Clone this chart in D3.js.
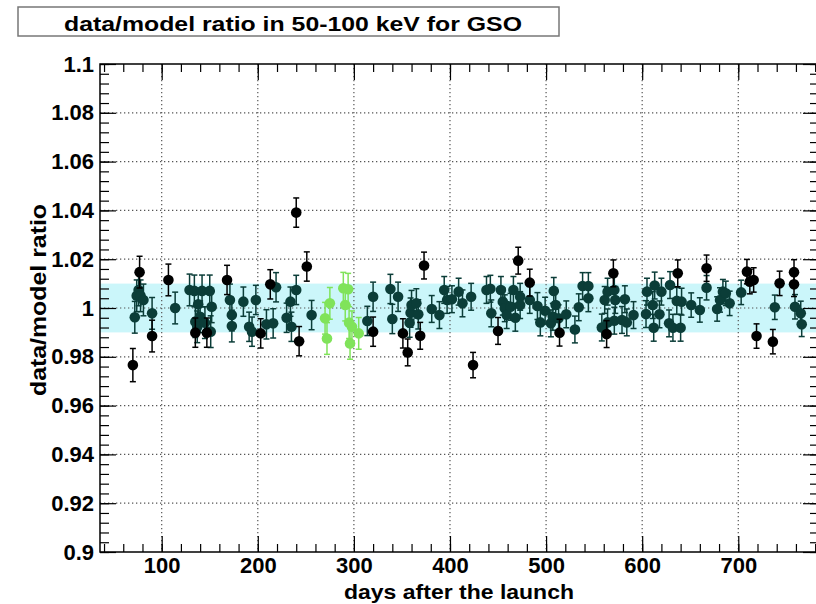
<!DOCTYPE html>
<html>
<head>
<meta charset="utf-8">
<script src="https://cdn.jsdelivr.net/npm/d3@7"></script>
<style>
  body { margin: 0; background: #fff; }
  svg { font-family: "Liberation Sans", Arial, sans-serif; }
  .axis text { font-weight: bold; font-size: 22px; fill: #000; }
</style>
</head>
<body>
<svg id="chart" width="816" height="604"></svg>
<script>
// Data: [day, ratio, error]
const tealPoints = [
  [72, 0.9962, 0.0065], [74, 1.0050, 0.0065], [76, 1.0074, 0.0065], [78, 1.0050, 0.0065],
  [81, 1.0033, 0.0065], [90, 0.9978, 0.0065], [114, 1.0000, 0.0065], [129, 1.0074, 0.0065],
  [134, 1.0070, 0.0065], [138, 1.0015, 0.0065], [135, 0.9944, 0.0065], [137, 0.9923, 0.0065],
  [142, 1.0070, 0.0065], [140, 0.9964, 0.0065], [145, 0.9940, 0.0065], [150, 1.0070, 0.0065],
  [152, 1.0005, 0.0065], [151, 0.9903, 0.0065], [171, 1.0033, 0.0065], [173, 0.9971, 0.0065],
  [173, 0.9926, 0.0065], [185, 1.0026, 0.0060], [191, 0.9923, 0.0060], [194, 0.9903, 0.0060],
  [198, 1.0033, 0.0060], [209, 0.9933, 0.0060], [216, 0.9937, 0.0060], [219, 1.0085, 0.0060],
  [240, 1.0074, 0.0060], [234, 1.0026, 0.0060], [230, 0.9960, 0.0060], [235, 0.9923, 0.0060],
  [256, 0.9971, 0.0060], [314, 0.9947, 0.0060], [320, 1.0046, 0.0060], [338, 1.0078, 0.0060],
  [340, 0.9955, 0.0060], [346, 1.0046, 0.0060], [358, 0.9940, 0.0060], [359, 0.9981, 0.0060],
  [360, 1.0012, 0.0060], [365, 1.0019, 0.0060], [367, 0.9974, 0.0060], [381, 0.9996, 0.0055],
  [389, 0.9971, 0.0055], [394, 1.0074, 0.0055], [397, 1.0033, 0.0055], [402, 1.0036, 0.0055],
  [409, 1.0067, 0.0055], [413, 1.0019, 0.0055], [422, 1.0046, 0.0055], [438, 1.0074, 0.0055],
  [442, 1.0079, 0.0055], [443, 0.9978, 0.0055], [453, 1.0074, 0.0055], [455, 1.0026, 0.0055],
  [457, 0.9999, 0.0055], [459, 0.9971, 0.0055], [463, 1.0005, 0.0055], [466, 1.0074, 0.0055],
  [468, 0.9960, 0.0055], [473, 1.0046, 0.0055], [473, 1.0012, 0.0055], [483, 1.0033, 0.0055],
  [491, 1.0008, 0.0055], [494, 0.9941, 0.0055], [499, 0.9989, 0.0055], [505, 0.9937, 0.0055],
  [508, 1.0070, 0.0055], [510, 1.0012, 0.0055], [507, 0.9964, 0.0055], [513, 0.9958, 0.0055],
  [521, 0.9974, 0.0055], [530, 0.9912, 0.0055], [534, 1.0003, 0.0055], [538, 1.0090, 0.0055],
  [544, 1.0090, 0.0055], [544, 1.0040, 0.0055], [558, 0.9920, 0.0055], [561, 1.0033, 0.0055],
  [564, 0.9941, 0.0055], [564, 1.0067, 0.0055], [571, 1.0074, 0.0055], [572, 1.0033, 0.0055],
  [571, 0.9948, 0.0055], [579, 0.9951, 0.0055], [582, 1.0036, 0.0055], [584, 0.9941, 0.0055],
  [591, 0.9971, 0.0055], [605, 1.0067, 0.0055], [604, 0.9975, 0.0055], [611, 1.0012, 0.0055],
  [612, 0.9919, 0.0055], [613, 1.0092, 0.0055], [618, 0.9974, 0.0055], [620, 1.0067, 0.0055],
  [629, 1.0094, 0.0055], [628, 0.9937, 0.0055], [632, 0.9919, 0.0055], [636, 1.0029, 0.0055],
  [640, 0.9919, 0.0055], [641, 1.0026, 0.0055], [651, 1.0012, 0.0050], [660, 0.9992, 0.0050],
  [667, 1.0083, 0.0050], [678, 0.9996, 0.0050], [681, 1.0033, 0.0050], [684, 1.0067, 0.0050],
  [687, 1.0060, 0.0050], [691, 1.0019, 0.0050], [703, 1.0064, 0.0050], [738, 1.0003, 0.0050],
  [759, 1.0005, 0.0050], [765, 0.9978, 0.0050], [766, 0.9933, 0.0050]
];

const blackPoints = [
  [70, 0.9766, 0.0068], [77, 1.0147, 0.0065], [90, 0.9885, 0.0065], [107, 1.0115, 0.0065],
  [135, 0.9899, 0.0060], [147, 0.9899, 0.0060], [168, 1.0115, 0.0060], [203, 0.9896, 0.0060],
  [213, 1.0097, 0.0060], [240, 1.0391, 0.0060], [243, 0.9864, 0.0060], [251, 1.0170, 0.0060],
  [320, 0.9903, 0.0060], [351, 0.9896, 0.0060], [356, 0.9818, 0.0055], [369, 0.9886, 0.0055],
  [373, 1.0174, 0.0055], [424, 0.9766, 0.0052], [450, 0.9906, 0.0055], [471, 1.0194, 0.0055],
  [483, 1.0104, 0.0055], [514, 0.9899, 0.0055], [563, 0.9893, 0.0055], [570, 1.0142, 0.0055],
  [637, 1.0142, 0.0055], [667, 1.0163, 0.0054], [709, 1.0149, 0.0050], [712, 1.0108, 0.0050],
  [716, 1.0115, 0.0050], [719, 0.9885, 0.0050], [736, 0.9862, 0.0050], [743, 1.0101, 0.0050],
  [758, 1.0147, 0.0051], [758, 1.0097, 0.0050]
];

const greenPoints = [
  [272, 0.9875, 0.0065], [270, 0.9958, 0.0065], [275, 1.0019, 0.0065], [289, 1.0081, 0.0065],
  [294, 1.0077, 0.0065], [291, 1.0012, 0.0065], [295, 0.9940, 0.0065], [298, 0.9923, 0.0065],
  [296, 0.9855, 0.0065], [305, 0.9896, 0.0065]
];

const xTickValues = [100, 200, 300, 400, 500, 600, 700];
const yTickValues = [0.9, 0.92, 0.94, 0.96, 0.98, 1, 1.02, 1.04, 1.06, 1.08, 1.1];
const bandRange = [0.99, 1.01];

const titleText = 'data/model ratio in 50-100 keV for GSO';
const xTitle = 'days after the launch';
const yTitle = 'data/model ratio';

// frame (right edge runs just past the picture)
const frame = { left: 100, top: 64, right: 819, bottom: 552 };

const svg = d3.select('#chart');

const x = d3.scaleLinear().domain([35.8, 784]).range([frame.left, frame.right]);
const y = d3.scaleLinear().domain([0.9, 1.1]).range([frame.bottom, frame.top]);

const xMinor = d3.range(40, 784, 20);
const yMinor = d3.range(0, 51).map(i => 0.9 + i * 0.004);

const plot = svg.append('g');

// cyan band
plot.append('rect')
  .attr('x', frame.left)
  .attr('y', y(bandRange[1]))
  .attr('width', frame.right - frame.left)
  .attr('height', y(bandRange[0]) - y(bandRange[1]))
  .attr('fill', '#cbf6fa');

// dotted grid
plot.selectAll('.xgrid')
  .data(xTickValues)
  .join('line')
  .attr('class', 'xgrid')
  .attr('x1', d => x(d)).attr('x2', d => x(d))
  .attr('y1', frame.top).attr('y2', frame.bottom)
  .attr('stroke', '#555')
  .attr('stroke-width', 1.2)
  .attr('stroke-dasharray', '1.3,2.7');

plot.selectAll('.ygrid')
  .data(yTickValues.slice(1, -1))
  .join('line')
  .attr('class', 'ygrid')
  .attr('x1', frame.left).attr('x2', frame.right)
  .attr('y1', d => y(d)).attr('y2', d => y(d))
  .attr('stroke', '#555')
  .attr('stroke-width', 1.2)
  .attr('stroke-dasharray', '1.3,2.7');

// points with error bars
function drawSeries(data, color, cls) {
  const g = plot.append('g').attr('class', cls);
  const pts = g.selectAll('g').data(data).join('g');
  pts.append('line')
    .attr('x1', d => x(d[0])).attr('x2', d => x(d[0]))
    .attr('y1', d => y(d[1] - d[2])).attr('y2', d => y(d[1] + d[2]))
    .attr('stroke', color).attr('stroke-width', 1.5);
  pts.append('line')
    .attr('x1', d => x(d[0]) - 3).attr('x2', d => x(d[0]) + 3)
    .attr('y1', d => y(d[1] + d[2])).attr('y2', d => y(d[1] + d[2]))
    .attr('stroke', color).attr('stroke-width', 1.5);
  pts.append('line')
    .attr('x1', d => x(d[0]) - 3).attr('x2', d => x(d[0]) + 3)
    .attr('y1', d => y(d[1] - d[2])).attr('y2', d => y(d[1] - d[2]))
    .attr('stroke', color).attr('stroke-width', 1.5);
  g.selectAll('circle').data(data).join('circle')
    .attr('cx', d => x(d[0]))
    .attr('cy', d => y(d[1]))
    .attr('r', 5.3)
    .attr('fill', color);
}

drawSeries(tealPoints, '#0b3d38', 'teal');
drawSeries(blackPoints, '#000000', 'black');
drawSeries(greenPoints, '#80e35a', 'green');

// axes: major ticks with labels, minor ticks without
svg.append('g')
  .attr('class', 'axis')
  .attr('transform', `translate(0,${frame.bottom})`)
  .call(d3.axisBottom(x).tickValues(xTickValues).tickSize(-16).tickPadding(5).tickFormat(d3.format('d')));
svg.append('g')
  .attr('transform', `translate(0,${frame.bottom})`)
  .call(d3.axisBottom(x).tickValues(xMinor).tickSize(-8).tickFormat(''));
svg.append('g')
  .attr('transform', `translate(0,${frame.top})`)
  .call(d3.axisTop(x).tickValues(xTickValues).tickSize(-16).tickFormat(''));
svg.append('g')
  .attr('transform', `translate(0,${frame.top})`)
  .call(d3.axisTop(x).tickValues(xMinor).tickSize(-8).tickFormat(''));

svg.append('g')
  .attr('class', 'axis')
  .attr('transform', `translate(${frame.left},0)`)
  .call(d3.axisLeft(y).tickValues(yTickValues).tickSize(-16).tickPadding(6).tickFormat(d3.format('~g')));
svg.append('g')
  .attr('transform', `translate(${frame.left},0)`)
  .call(d3.axisLeft(y).tickValues(yMinor).tickSize(-9).tickFormat(''));
svg.append('g')
  .attr('transform', `translate(${frame.right},0)`)
  .call(d3.axisRight(y).tickValues(yTickValues).tickSize(-16).tickFormat(''));
svg.append('g')
  .attr('transform', `translate(${frame.right},0)`)
  .call(d3.axisRight(y).tickValues(yMinor).tickSize(-9).tickFormat(''));

svg.selectAll('.domain').remove();
svg.selectAll('.tick line').attr('stroke', '#000').attr('stroke-width', 1.2);

// frame
svg.append('rect')
  .attr('x', frame.left).attr('y', frame.top)
  .attr('width', frame.right - frame.left)
  .attr('height', frame.bottom - frame.top)
  .attr('fill', 'none')
  .attr('stroke', '#000')
  .attr('stroke-width', 1.5);

// axis titles
svg.append('text')
  .attr('x', 459).attr('y', 599)
  .attr('text-anchor', 'middle')
  .attr('textLength', 230)
  .attr('lengthAdjust', 'spacingAndGlyphs')
  .style('font-weight', 'bold').style('font-size', '21px')
  .text(xTitle);

svg.append('text')
  .attr('transform', 'translate(46,300) rotate(-90)')
  .attr('text-anchor', 'middle')
  .attr('textLength', 192)
  .attr('lengthAdjust', 'spacingAndGlyphs')
  .style('font-weight', 'bold').style('font-size', '22px')
  .text(yTitle);

// title box
svg.append('rect')
  .attr('x', 18).attr('y', 7)
  .attr('width', 541).attr('height', 29)
  .attr('fill', '#fff')
  .attr('stroke', '#777')
  .attr('stroke-width', 1.5);

svg.append('text')
  .attr('x', 293).attr('y', 30.5)
  .attr('text-anchor', 'middle')
  .attr('textLength', 458)
  .attr('lengthAdjust', 'spacingAndGlyphs')
  .style('font-weight', 'bold').style('font-size', '21px')
  .text(titleText);
</script>
</body>
</html>
